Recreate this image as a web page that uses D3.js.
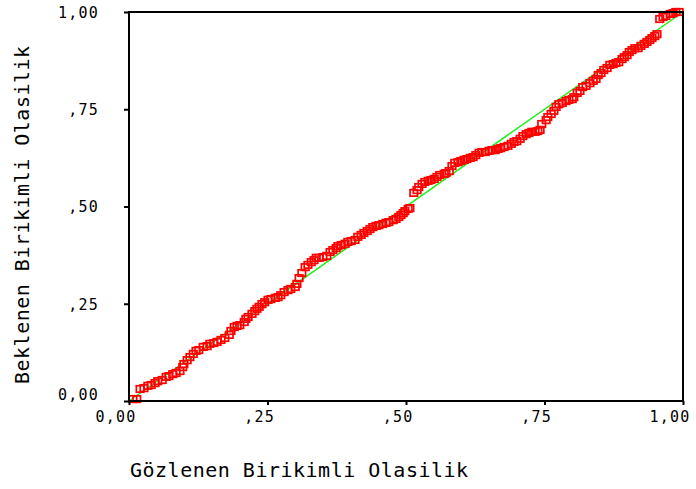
<!DOCTYPE html>
<html><head><meta charset="utf-8">
<script src="https://cdn.jsdelivr.net/npm/d3@7"></script>
<style>body{margin:0;background:#fff}svg{display:block}</style>
</head><body>
<svg id="c" width="696" height="489"></svg>
<script>
const observed = [0.007,0.014,0.020,0.027,0.034,0.040,0.047,0.052,0.060,0.067,0.072,0.079,0.085,0.092,0.097,0.099,0.105,0.110,0.116,0.121,0.126,0.134,0.141,0.146,0.153,0.159,0.166,0.173,0.181,0.184,0.190,0.195,0.200,0.208,0.211,0.215,0.222,0.227,0.231,0.235,0.240,0.245,0.251,0.256,0.264,0.269,0.274,0.280,0.287,0.292,0.300,0.303,0.307,0.312,0.318,0.323,0.329,0.334,0.338,0.343,0.350,0.357,0.363,0.368,0.374,0.377,0.383,0.390,0.395,0.401,0.408,0.413,0.419,0.424,0.430,0.435,0.440,0.446,0.451,0.458,0.464,0.469,0.477,0.482,0.487,0.491,0.495,0.498,0.504,0.507,0.514,0.520,0.523,0.529,0.534,0.540,0.545,0.551,0.556,0.561,0.569,0.572,0.578,0.583,0.588,0.594,0.599,0.605,0.610,0.616,0.621,0.626,0.632,0.637,0.643,0.650,0.655,0.661,0.666,0.671,0.677,0.684,0.690,0.695,0.700,0.706,0.711,0.717,0.722,0.727,0.733,0.738,0.742,0.745,0.753,0.756,0.762,0.767,0.771,0.776,0.782,0.789,0.794,0.800,0.803,0.809,0.814,0.819,0.825,0.832,0.838,0.843,0.847,0.852,0.857,0.863,0.868,0.874,0.879,0.884,0.890,0.894,0.899,0.903,0.908,0.913,0.919,0.924,0.930,0.935,0.940,0.944,0.949,0.953,0.958,0.964,0.969,0.977,0.982,0.987,0.993];
const expected = [0.005,0.005,0.031,0.033,0.039,0.041,0.046,0.051,0.054,0.062,0.064,0.069,0.072,0.077,0.087,0.095,0.105,0.113,0.121,0.129,0.131,0.139,0.141,0.147,0.149,0.152,0.157,0.162,0.170,0.180,0.190,0.193,0.195,0.203,0.211,0.216,0.224,0.231,0.237,0.242,0.249,0.254,0.260,0.262,0.265,0.267,0.272,0.280,0.285,0.288,0.293,0.301,0.316,0.329,0.344,0.350,0.357,0.362,0.368,0.368,0.370,0.373,0.383,0.388,0.393,0.398,0.401,0.404,0.409,0.411,0.414,0.422,0.427,0.432,0.437,0.442,0.447,0.450,0.452,0.455,0.458,0.460,0.465,0.468,0.473,0.478,0.483,0.488,0.494,0.496,0.535,0.542,0.550,0.558,0.563,0.566,0.568,0.571,0.576,0.581,0.584,0.586,0.591,0.604,0.612,0.614,0.617,0.620,0.622,0.625,0.627,0.632,0.638,0.640,0.640,0.643,0.645,0.645,0.648,0.650,0.653,0.656,0.661,0.666,0.668,0.674,0.681,0.686,0.689,0.692,0.692,0.694,0.697,0.712,0.722,0.730,0.738,0.746,0.756,0.763,0.766,0.771,0.774,0.776,0.781,0.792,0.797,0.807,0.810,0.817,0.823,0.828,0.838,0.843,0.851,0.856,0.864,0.866,0.869,0.871,0.879,0.884,0.889,0.897,0.902,0.907,0.907,0.913,0.918,0.923,0.928,0.933,0.938,0.943,0.982,0.987,0.990,0.995,0.997,1.000,1.000];
const tickValues = [0, 0.25, 0.5, 0.75, 1];
const tickLabels = ["0,00", ",25", ",50", ",75", "1,00"];
const xTitle = "Gözlenen Birikimli Olasilik";
const yTitle = "Beklenen Birikimli Olasilik";

const L = 129, R = 683, T = 12, B = 401;
const svg = d3.select("#c");
const x = d3.scaleLinear().domain([0, 1]).range([L, R]);
const y = d3.scaleLinear().domain([0, 1]).range([B, T]);
const font = "'DejaVu Sans Mono', monospace";

// diagonal reference line
svg.append("line")
  .attr("x1", x(0)).attr("y1", y(0)).attr("x2", x(1)).attr("y2", y(1))
  .attr("stroke", "#1cf01c").attr("stroke-width", 1.5);

// points
const pts = observed.map((o, i) => ({o, e: expected[i]}));
svg.append("g").selectAll("rect").data(pts).join("rect")
  .attr("x", d => x(d.o) - 3.75).attr("y", d => y(d.e) - 3.25)
  .attr("width", 7.5).attr("height", 6.5)
  .attr("fill", "none").attr("stroke", "#ff0000").attr("stroke-width", 1.7);

// frame
svg.append("rect").attr("x", L).attr("y", T).attr("width", R - L).attr("height", B - T)
  .attr("fill", "none").attr("stroke", "#000").attr("stroke-width", 2);

// y axis ticks
const yAxis = d3.axisLeft(y).tickValues(tickValues).tickSize(5).tickPadding(0).tickFormat("");
const gy = svg.append("g").attr("transform", `translate(${L},0)`).call(yAxis);
gy.select(".domain").remove();
gy.selectAll("line").attr("stroke", "#000").attr("stroke-width", 2);
gy.selectAll(".tick").append("text")
  .attr("x", -30).attr("y", (d, i) => i === 0 ? -7 : 0).attr("dy", "0.35em")
  .attr("text-anchor", "end").attr("fill", "#000")
  .style("font-family", font).style("font-size", "15px").style("letter-spacing", "1.2px")
  .text((d, i) => tickLabels[i]);

// x axis ticks
const xAxis = d3.axisBottom(x).tickValues(tickValues).tickSize(4).tickPadding(0).tickFormat("");
const gx = svg.append("g").attr("transform", `translate(0,${B})`).call(xAxis);
gx.select(".domain").remove();
gx.selectAll("line").attr("stroke", "#000").attr("stroke-width", 2);
gx.selectAll(".tick").append("text")
  .attr("x", 7).attr("y", 21)
  .attr("text-anchor", "end").attr("fill", "#000")
  .style("font-family", font).style("font-size", "15px").style("letter-spacing", "1.2px")
  .text((d, i) => tickLabels[i]);

// titles
svg.append("text").attr("x", 130).attr("y", 477)
  .style("font-family", font).style("font-size", "20px").style("letter-spacing", "0.5px")
  .text(xTitle);
svg.append("text").attr("transform", "translate(29,384) rotate(-90)")
  .style("font-family", font).style("font-size", "20px").style("letter-spacing", "0.5px")
  .text(yTitle);
</script>
</body></html>
